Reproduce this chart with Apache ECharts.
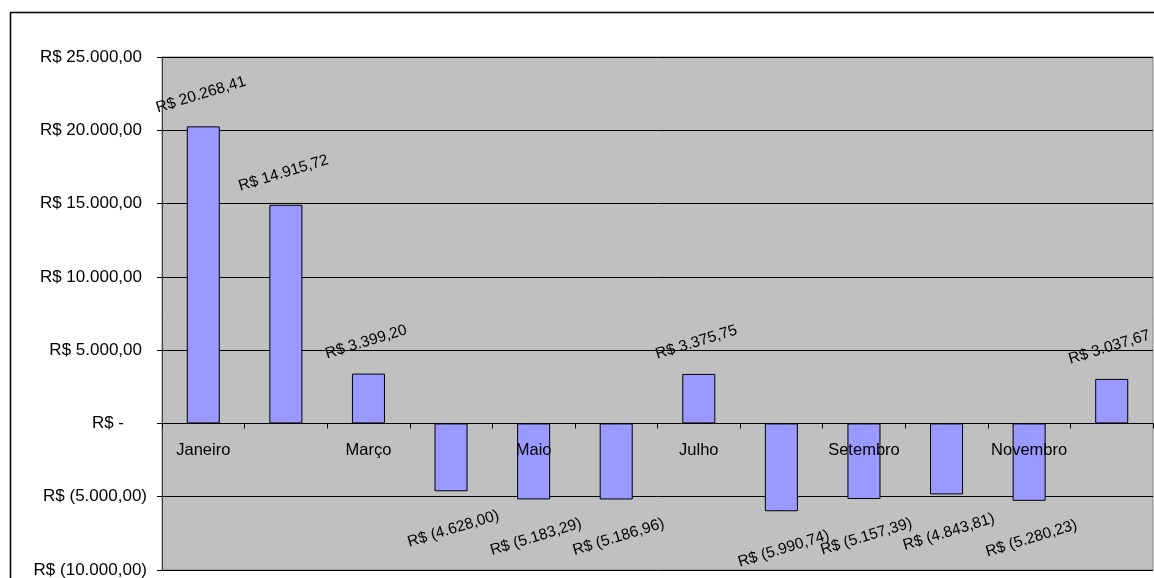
<!DOCTYPE html>
<html>
<head>
<meta charset="utf-8">
<script src="https://cdn.jsdelivr.net/npm/echarts@6/dist/echarts.min.js"></script>
<style>
  html, body { margin: 0; padding: 0; background: #fff; }
  #chart { width: 1154px; height: 578px; }
</style>
</head>
<body>
<div id="chart"></div>
<script>
// meses e resultado mensal (R$)
const months = ['Janeiro', 'Fevereiro', 'Março', 'Abril', 'Maio', 'Junho',
  'Julho', 'Agosto', 'Setembro', 'Outubro', 'Novembro', 'Dezembro'];
const values = [20268.41, 14915.72, 3399.20, -4628.00, -5183.29, -5186.96,
  3375.75, -5990.74, -5157.39, -4843.81, -5280.23, 3037.67];
const yMin = -10000;
const yMax = 25000;
const yStep = 5000;

const FONT = 'Arial, "Liberation Sans", sans-serif';
const GRID_BOTTOM = 8;

// formato contábil brasileiro: R$ 1.234,56 / R$ (1.234,56) / R$ -
function brl(v, decimals) {
  const abs = Math.abs(v).toFixed(decimals);
  let [int, dec] = abs.split('.');
  int = int.replace(/\B(?=(\d{3})+(?!\d))/g, '.');
  return dec ? int + ',' + dec : int;
}
function axisFmt(v) {
  if (v === 0) return '{z|R$ -}';
  if (v < 0) return '{n|R$ (' + brl(v, 2) + ')}';
  return '{p|R$ ' + brl(v, 2) + '}';
}
function labelFmt(v) {
  return v < 0 ? 'R$ (' + brl(v, 2) + ')' : 'R$ ' + brl(v, 2);
}

const chart = echarts.init(document.getElementById('chart'));

const yText = { fontSize: 17, fontFamily: FONT, color: '#000' };

chart.setOption({
  animation: false,
  textStyle: { fontFamily: FONT },
  graphic: [{
    type: 'rect',
    shape: { x: 10.5, y: 12.5, width: 1200, height: 700 },
    style: { fill: 'none', stroke: '#000', lineWidth: 1.5 },
    z: -1
  }],
  grid: {
    left: 162, top: 57, right: 1, bottom: GRID_BOTTOM,
    containLabel: false,
    outerBoundsMode: 'none',
    show: true,
    backgroundColor: '#C0C0C0',
    borderColor: '#808080',
    borderWidth: 1
  },
  xAxis: {
    type: 'category',
    data: months,
    z: 10,
    axisLine: { onZero: false, lineStyle: { color: '#000', width: 1 } },
    axisTick: { show: true, interval: 0, length: 5, lineStyle: { color: '#000' } },
    axisLabel: {
      interval: 1,
      margin: 19,
      color: '#000',
      fontSize: 16.5,
      fontFamily: FONT
    },
    splitLine: { show: false }
  },
  yAxis: {
    type: 'value',
    min: yMin,
    max: yMax,
    interval: yStep,
    axisLine: { show: true, lineStyle: { color: '#404040', width: 1 } },
    axisTick: { show: true, length: 5, lineStyle: { color: '#000' } },
    axisLabel: {
      formatter: axisFmt,
      margin: 15,
      color: '#000',
      fontSize: 17,
      fontFamily: FONT,
      rich: {
        p: Object.assign({ padding: [0, 5, 0, 0] }, yText),
        n: Object.assign({}, yText),
        z: Object.assign({ padding: [0, 23, 0, 0] }, yText)
      }
    },
    splitLine: { show: true, lineStyle: { color: '#000', width: 1 } }
  },
  series: [{
    type: 'bar',
    barWidth: '40%',
    data: values.map(v => ({
      value: v,
      label: {
        position: v < 0 ? 'bottom' : 'top',
        distance: v < 0 ? 30 : 24
      }
    })),
    itemStyle: {
      color: '#9999FF',
      borderColor: '#000',
      borderWidth: 1
    },
    label: {
      show: true,
      rotate: 17,
      color: '#000',
      fontSize: 15.5,
      fontFamily: FONT,
      formatter: p => labelFmt(p.value)
    }
  }]
});

// eixo das categorias sobre o zero (com rótulos junto à linha)
const zeroY = chart.convertToPixel({ yAxisIndex: 0 }, 0);
const bottomY = chart.getHeight() - GRID_BOTTOM;
chart.setOption({ xAxis: { offset: zeroY - bottomY } });
</script>
</body>
</html>
